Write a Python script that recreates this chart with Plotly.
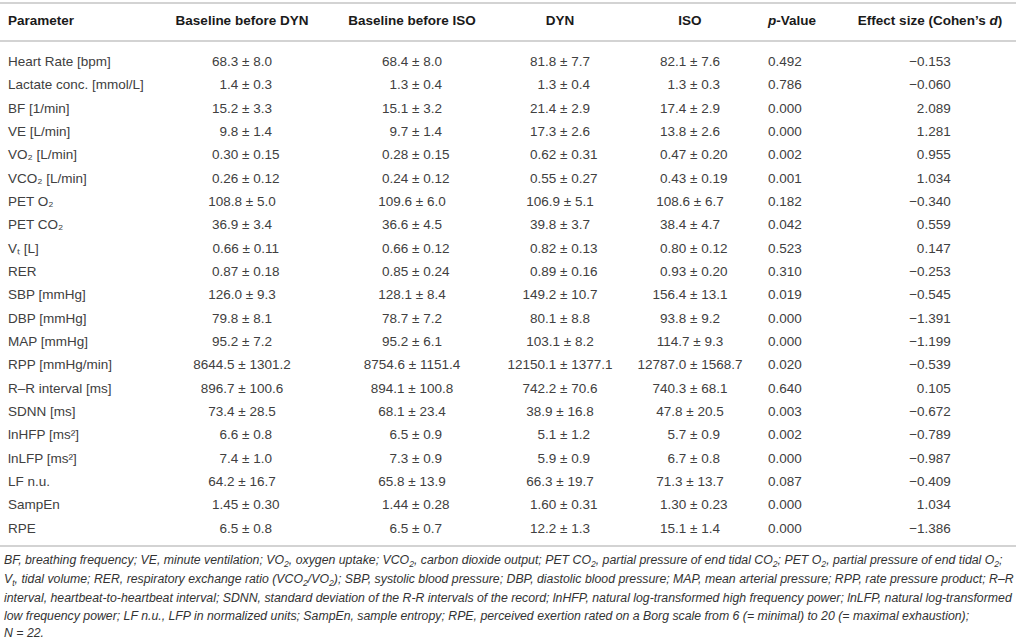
import plotly.graph_objects as go

# parameter names as printed in the first column
parameters = [
    "Heart Rate [bpm]", "Lactate conc. [mmol/L]", "BF [1/min]", "VE [L/min]",
    "VO₂ [L/min]", "VCO₂ [L/min]", "PET O₂", "PET CO₂", "Vₜ [L]", "RER",
    "SBP [mmHg]", "DBP [mmHg]", "MAP [mmHg]", "RPP [mmHg/min]", "R–R interval [ms]",
    "SDNN [ms]", "lnHFP [ms²]", "lnLFP [ms²]", "LF n.u.", "SampEn", "RPE",
]
decimals = [1, 1, 1, 1, 2, 2, 1, 1, 2, 2, 1, 1, 1, 1, 1, 1, 1, 1, 1, 2, 1]

base_dyn_mean = [68.3, 1.4, 15.2, 9.8, 0.30, 0.26, 108.8, 36.9, 0.66, 0.87, 126.0, 79.8,
                 95.2, 8644.5, 896.7, 73.4, 6.6, 7.4, 64.2, 1.45, 6.5]
base_dyn_sd = [8.0, 0.3, 3.3, 1.4, 0.15, 0.12, 5.0, 3.4, 0.11, 0.18, 9.3, 8.1,
               7.2, 1301.2, 100.6, 28.5, 0.8, 1.0, 16.7, 0.30, 0.8]
base_iso_mean = [68.4, 1.3, 15.1, 9.7, 0.28, 0.24, 109.6, 36.6, 0.66, 0.85, 128.1, 78.7,
                 95.2, 8754.6, 894.1, 68.1, 6.5, 7.3, 65.8, 1.44, 6.5]
base_iso_sd = [8.0, 0.4, 3.2, 1.4, 0.15, 0.12, 6.0, 4.5, 0.12, 0.24, 8.4, 7.2,
               6.1, 1151.4, 100.8, 23.4, 0.9, 0.9, 13.9, 0.28, 0.7]
dyn_mean = [81.8, 1.3, 21.4, 17.3, 0.62, 0.55, 106.9, 39.8, 0.82, 0.89, 149.2, 80.1,
            103.1, 12150.1, 742.2, 38.9, 5.1, 5.9, 66.3, 1.60, 12.2]
dyn_sd = [7.7, 0.4, 2.9, 2.6, 0.31, 0.27, 5.1, 3.7, 0.13, 0.16, 10.7, 8.8,
          8.2, 1377.1, 70.6, 16.8, 1.2, 0.9, 19.7, 0.31, 1.3]
iso_mean = [82.1, 1.3, 17.4, 13.8, 0.47, 0.43, 108.6, 38.4, 0.80, 0.93, 156.4, 93.8,
            114.7, 12787.0, 740.3, 47.8, 5.7, 6.7, 71.3, 1.30, 15.1]
iso_sd = [7.6, 0.3, 2.9, 2.6, 0.20, 0.19, 6.7, 4.7, 0.12, 0.20, 13.1, 9.2,
          9.3, 1568.7, 68.1, 20.5, 0.9, 0.8, 13.7, 0.23, 1.4]
p_values = [0.492, 0.786, 0.000, 0.000, 0.002, 0.001, 0.182, 0.042, 0.523, 0.310, 0.019,
            0.000, 0.000, 0.020, 0.640, 0.003, 0.002, 0.000, 0.087, 0.000, 0.000]
effect_sizes = [-0.153, -0.060, 2.089, 1.281, 0.955, 1.034, -0.340, 0.559, 0.147, -0.253,
                -0.545, -1.391, -1.199, -0.539, 0.105, -0.672, -0.789, -0.987, -0.409,
                1.034, -1.386]

headers = [
    "<b>Parameter</b>", "<b>Baseline before DYN</b>", "<b>Baseline before ISO</b>",
    "<b>DYN</b>", "<b>ISO</b>", "<b><i>p</i>-Value</b>", "<b>Effect size (Cohen’s <i>d</i>)</b>",
]

footnote = [
    "BF, breathing frequency; VE, minute ventilation; VO<sub>2</sub>, oxygen uptake; VCO<sub>2</sub>, carbon dioxide output; "
    "PET CO<sub>2</sub>, partial pressure of end tidal CO<sub>2</sub>; PET O<sub>2</sub>, partial pressure of end tidal O<sub>2</sub>;",
    "V<sub>t</sub>, tidal volume; RER, respiratory exchange ratio (VCO<sub>2</sub>/VO<sub>2</sub>); SBP, systolic blood pressure; "
    "DBP, diastolic blood pressure; MAP, mean arterial pressure; RPP, rate pressure product; R–R",
    "interval, heartbeat-to-heartbeat interval; SDNN, standard deviation of the R-R intervals of the record; "
    "lnHFP, natural log-transformed high frequency power; lnLFP, natural log-transformed",
    "low frequency power; LF n.u., LFP in normalized units; SampEn, sample entropy; "
    "RPE, perceived exertion rated on a Borg scale from 6 (= minimal) to 20 (= maximal exhaustion);",
    "N = 22.",
]

FIG = "\u2007"  # figure space, keeps the digits lined up
NB = "\u00a0"


def mean_sd(means, sds):
    out = []
    for m, s, d in zip(means, sds, decimals):
        m_txt = f"{m:.{d}f}"
        if abs(m) < 10:
            m_txt = FIG + m_txt
        out.append(f"{m_txt}{NB}±{NB}{s:.{d}f}")
    return out


def effect(vals):
    return [f"−{abs(v):.3f}" if v < 0 else FIG + f"{v:.3f}" for v in vals]


W, H = 1016, 641
columns = [
    parameters,
    mean_sd(base_dyn_mean, base_dyn_sd),
    mean_sd(base_iso_mean, base_iso_sd),
    mean_sd(dyn_mean, dyn_sd),
    mean_sd(iso_mean, iso_sd),
    [f"{p:.3f}" for p in p_values],
    effect(effect_sizes),
]

font = "Liberation Sans, Arial, sans-serif"
tbl_top = 5
header_h = 43
row_h = 23.33

fig = go.Figure(go.Table(
    domain=dict(x=[0, 1], y=[1 - 560 / H, 1 - tbl_top / H]),
    columnwidth=[160, 164, 176, 120, 140, 84, 172],
    header=dict(
        values=headers,
        align=["left", "center", "center", "center", "center", "left", "center"],
        font=dict(family=font, size=13.5, color="#1a1a1a"),
        fill_color="white",
        line=dict(color="white", width=0),
        height=header_h,
    ),
    cells=dict(
        values=columns,
        align=["left", "center", "center", "center", "center", "left", "center"],
        font=dict(family=font, size=13.5, color="#404040"),
        fill_color="white",
        line=dict(color="white", width=0),
        height=row_h,
    ),
))

# horizontal rules: top, below header, bottom
for y in [3, 41, 546]:
    fig.add_shape(type="line", xref="paper", yref="paper",
                  x0=0, x1=1, y0=1 - y / H, y1=1 - y / H,
                  line=dict(color="#c4c4c4", width=1.6))

# footnote, one annotation per printed line
for line, yc in zip(footnote, [561, 579.5, 598, 616, 633]):
    fig.add_annotation(
        xref="paper", yref="paper", x=2 / W, y=1 - yc / H,
        xanchor="left", yanchor="middle", align="left", showarrow=False,
        text="<i>" + line + "</i>",
        font=dict(family=font, size=12.3, color="#333333"),
    )

fig.update_layout(
    width=W, height=H,
    margin=dict(l=0, r=0, t=0, b=0),
    paper_bgcolor="white",
    plot_bgcolor="white",
)

# drop the browser's default 8px body margin so the figure sits at the corner
fig.write_html("out.html", config={"displayModeBar": False},
               post_script="document.body.style.margin = '0';")
